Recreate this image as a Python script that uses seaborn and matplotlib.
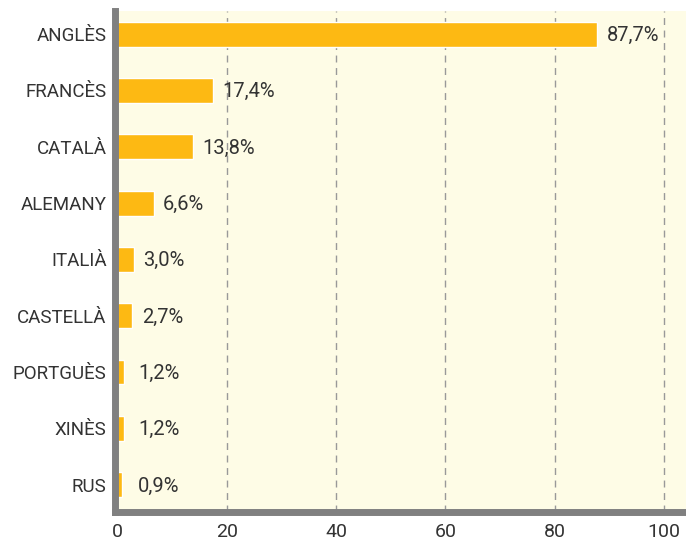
import pandas as pd
import seaborn as sns
import matplotlib.pyplot as plt

idiomes = ["ANGLÈS", "FRANCÈS", "CATALÀ", "ALEMANY", "ITALIÀ",
           "CASTELLÀ", "PORTGUÈS", "XINÈS", "RUS"]
percentatges = [87.7, 17.4, 13.8, 6.6, 3.0, 2.7, 1.2, 1.2, 0.9]
x_ticks = [0, 20, 40, 60, 80, 100]

df = pd.DataFrame({"idioma": idiomes, "pct": percentatges})

sns.set_style("white")
plt.rcParams["font.family"] = ["Roboto", "DejaVu Sans"]

fig = plt.figure(figsize=(6.86, 5.43), dpi=100)
ax = fig.add_axes([0.1676, 0.058, 0.8324, 0.922])
ax.set_facecolor("#fefce6")

sns.barplot(data=df, x="pct", y="idioma", orient="h", color="#fdb913",
            saturation=1, width=0.44, ax=ax, zorder=3)

# value labels
for v, i in zip(percentatges, range(len(percentatges))):
    ax.annotate(f"{v:.1f}%".replace(".", ","), xy=(max(v, 2.0), i),
                xytext=(7, -1), textcoords="offset points",
                ha="left", va="center", fontsize=14.5, color="#333333")

ax.set_xlim(-0.45, 104.0)
ax.set_ylim(8.476, -0.414)
ax.set_xticks(x_ticks)
ax.set_xticklabels([str(t) for t in x_ticks])
ax.set_xlabel("")
ax.set_ylabel("")

for t in x_ticks[1:]:
    ax.axvline(t, color="#999999", lw=1, ls=(0, (5, 4)), zorder=1)

for side in ["top", "right"]:
    ax.spines[side].set_visible(False)
for side in ["left", "bottom"]:
    ax.spines[side].set_color("#808080")
    ax.spines[side].set_linewidth(5)
    ax.spines[side].set_zorder(4)

ax.tick_params(axis="both", length=0, labelcolor="#333333")
ax.tick_params(axis="y", pad=6, labelsize=13.5)
ax.tick_params(axis="x", pad=8, labelsize=14)

fig.savefig("out.png", dpi=100)
